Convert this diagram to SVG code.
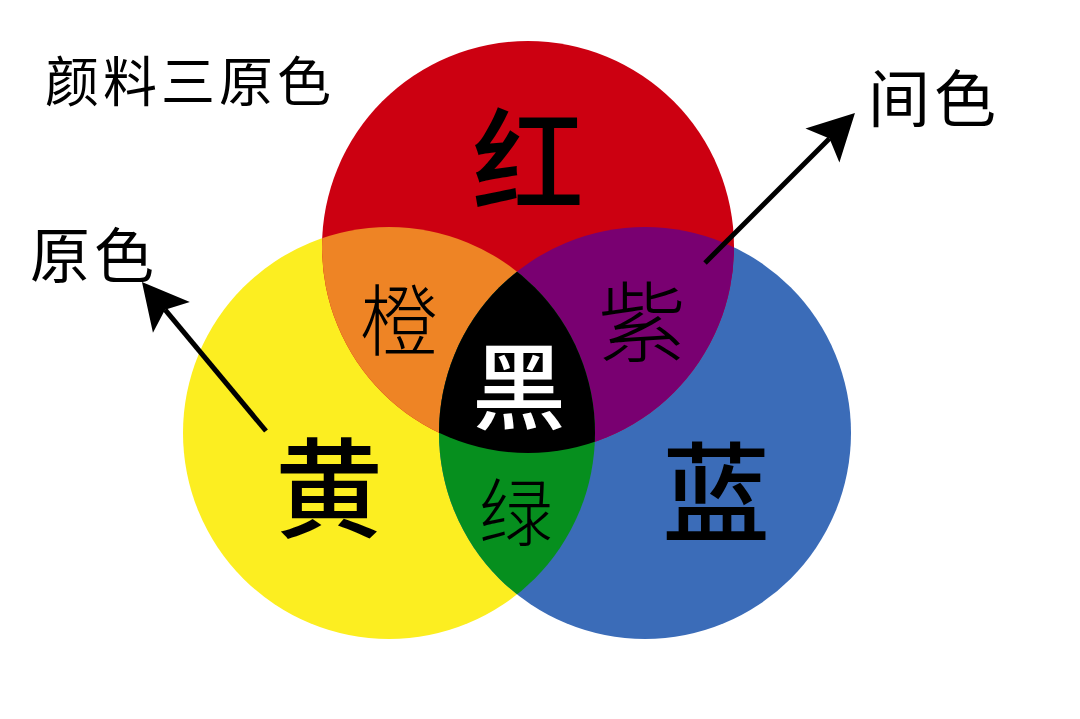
<svg xmlns="http://www.w3.org/2000/svg" width="1080" height="719" viewBox="0 0 1080 719">
<style>
text{font-family:"Noto Sans CJK SC","Noto Sans CJK JP",sans-serif;text-anchor:middle;dominant-baseline:central;fill:#000}
.big{font-weight:500}
.mid{font-weight:300}
.lbl{font-weight:400}
.conn line{stroke:#000;stroke-width:5;fill:none}
</style>
<defs>
<clipPath id="cY"><circle cx="389" cy="433" r="206"/></clipPath>
<clipPath id="cR"><circle cx="528" cy="247" r="206"/></clipPath>
<clipPath id="cB"><circle cx="645" cy="433" r="206"/></clipPath>
<marker id="ah" markerUnits="userSpaceOnUse" orient="auto" viewBox="-50 -30 55 60" markerWidth="55" markerHeight="60" refX="-36" refY="0">
<path d="M0,0 L-46,-24 L-36,0 L-46,24 Z" fill="#000"/>
</marker>
</defs>
<rect width="1080" height="719" fill="#fff"/>
<g id="circles">
<circle id="yellow" cx="389" cy="433" r="206" fill="#FCEE21"/>
<circle id="blue" cx="645" cy="433" r="206" fill="#3B6CB8"/>
<circle id="red" cx="528" cy="247" r="206" fill="#CC0011"/>
<circle id="orange" cx="528" cy="247" r="206" fill="#EE8425" clip-path="url(#cY)"/>
<circle id="purple" cx="528" cy="247" r="206" fill="#790071" clip-path="url(#cB)"/>
<circle id="green" cx="389" cy="433" r="206" fill="#068F1E" clip-path="url(#cB)"/>
<g clip-path="url(#cR)"><circle id="black" cx="389" cy="433" r="206" fill="#000" clip-path="url(#cB)"/></g>
</g>
<g class="conn" id="connectors">
<line x1="705" y1="263" x2="829.5" y2="138.5" marker-end="url(#ah)"/>
<line x1="266" y1="431" x2="165" y2="309.7" marker-end="url(#ah)"/>
</g>
<g id="title"><text class="lbl" x="190" y="78" font-size="54" letter-spacing="4">颜料三原色</text></g>
<g id="primary-label"><text class="lbl" x="94" y="251" font-size="60" letter-spacing="4">原色</text></g>
<g id="secondary-label"><text class="lbl" x="934" y="95" font-size="62" letter-spacing="4">间色</text></g>
<g id="n-red"><text class="big" x="528" y="154" font-size="112">红</text></g>
<g id="n-yellow"><text class="big" x="329" y="482" font-size="108">黄</text></g>
<g id="n-blue"><text class="big" x="716" y="486" font-size="108">蓝</text></g>
<g id="n-orange"><text class="mid" x="399" y="316" font-size="78">橙</text></g>
<g id="n-purple"><text class="mid" x="642" y="316" font-size="88">紫</text></g>
<g id="n-green"><text class="mid" x="516" y="507" font-size="74">绿</text></g>
<g id="n-black"><text class="big" x="519" y="381" font-size="94" style="fill:#fff">黑</text></g>
</svg>
